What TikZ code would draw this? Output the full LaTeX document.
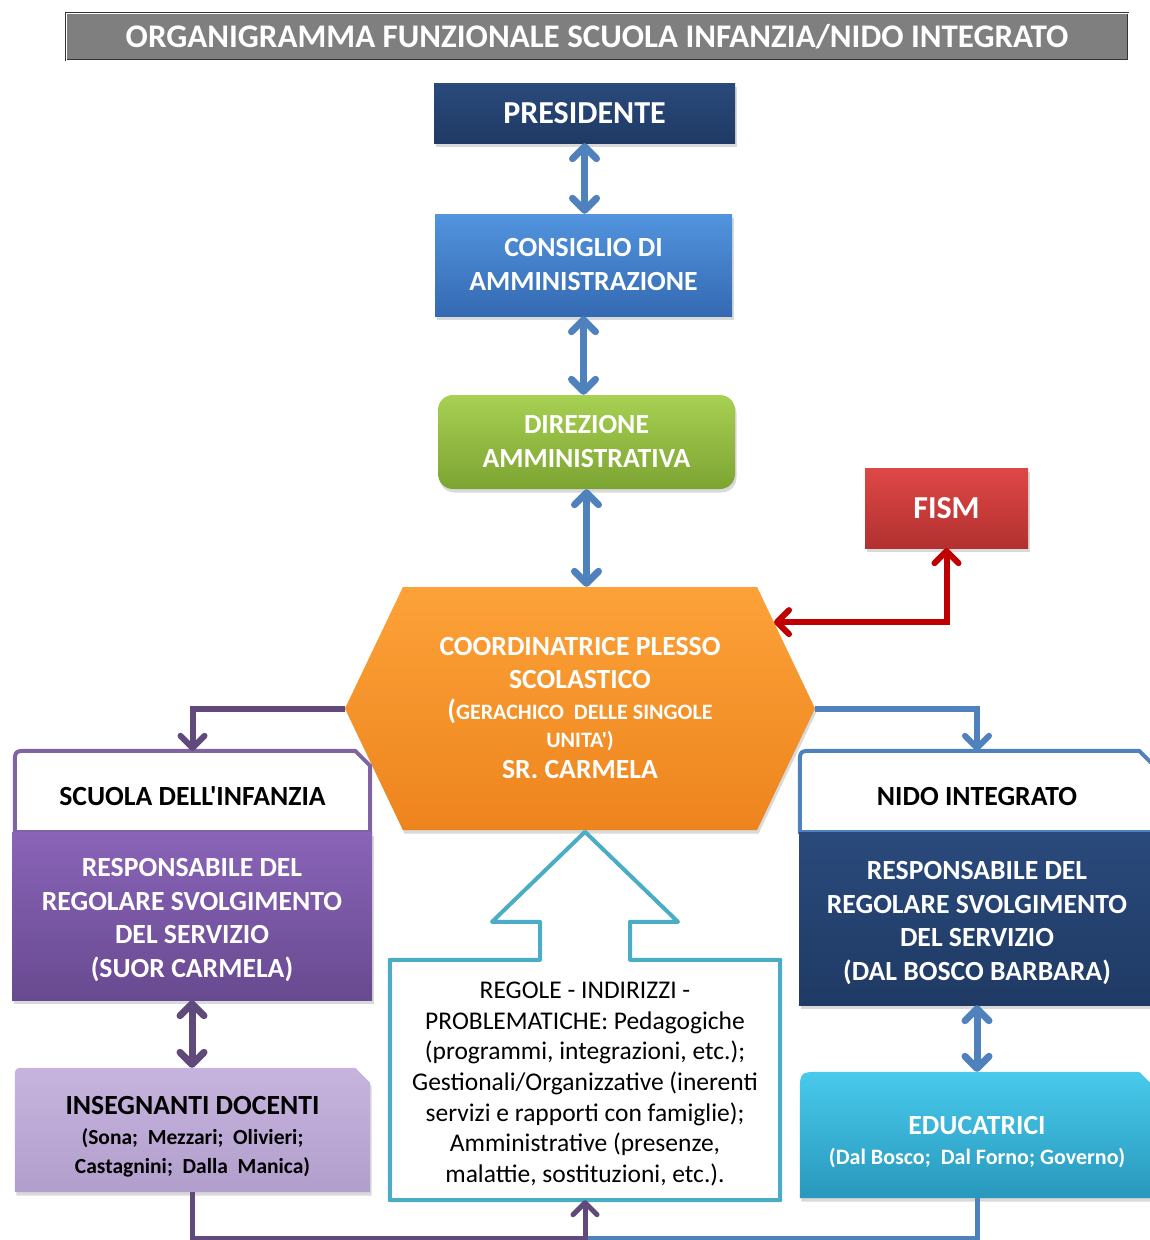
\documentclass[tikz,border=0pt]{standalone}
\usepackage{fontspec}
\setmainfont{Carlito}[Ligatures=TeXOff]
\usepackage{tikz}
\usetikzlibrary{arrows.meta,shapes.symbols,shadows,calc}
\definecolor{titleGray}{RGB}{127,127,127}
\definecolor{presNavy}{RGB}{31,58,100}
\definecolor{presTop}{RGB}{42,74,124}
\definecolor{consTop}{RGB}{82,148,222}
\definecolor{consBottom}{RGB}{52,106,178}
\definecolor{dirTop}{RGB}{168,208,82}
\definecolor{dirBottom}{RGB}{124,164,50}
\definecolor{fismTop}{RGB}{222,72,70}
\definecolor{fismBottom}{RGB}{178,48,48}
\definecolor{hexTop}{RGB}{252,162,56}
\definecolor{hexBottom}{RGB}{238,132,30}
\definecolor{infTop}{RGB}{138,100,184}
\definecolor{infBottom}{RGB}{104,74,144}
\definecolor{infBorder}{RGB}{128,100,162}
\definecolor{insTop}{RGB}{198,180,222}
\definecolor{insBottom}{RGB}{178,158,204}
\definecolor{eduTop}{RGB}{72,202,236}
\definecolor{eduBottom}{RGB}{40,152,188}
\definecolor{calloutCyan}{RGB}{75,172,198}
\definecolor{purpleLine}{RGB}{96,74,123}
\definecolor{blueLine}{RGB}{79,129,189}
\definecolor{redLine}{RGB}{192,0,0}
\newcommand{\headSize}[0]{\fontsize{27.7}{34}\selectfont}
\newcommand{\subSize}[0]{\fontsize{21.5}{28}\selectfont}
\newcommand{\snipBox}[3]{%
  \path[#3] (#1.south west) -- ($(#1.north west)+(0,#2)$)
    .. controls (#1.north west) .. ($(#1.north west)+(#2,0)$)
    -- ($(#1.north east)+(-15,0)$) -- ($(#1.north east)+(0,15)$)
    -- (#1.south east) -- cycle;}

\begin{document}
\begin{tikzpicture}[x=1pt, y=-1pt]
  \tikzset{
    boxshadow/.style={drop shadow={opacity=0.3, shadow xshift=1.5pt, shadow yshift=-3.5pt}},
    orgbox/.style={rectangle, align=center, inner sep=0pt, text=white, font=\headSize\bfseries, boxshadow},
    emptybox/.style={rectangle, inner sep=0pt},
    labelbox/.style={rectangle, align=center, inner sep=0pt, font=\headSize\bfseries},
    titlebox/.style={rectangle, fill=titleGray, draw=black!80, line width=0.8pt, double=white, double distance=1pt, text=white, font=\fontsize{33}{36}\selectfont\bfseries},
    biarrow/.style={line width=7pt, {Straight Barb[round,length=12pt,width=24pt]}-{Straight Barb[round,length=12pt,width=24pt]}},
    onearrow/.style={line width=6pt, -{Straight Barb[round,length=12pt,width=24pt]}},
    calloutline/.style={draw=calloutCyan, line width=4pt, line join=round}
  }
  \useasboundingbox (0,0) rectangle (1149,1240);
  \node[titlebox, minimum width=1062pt, minimum height=47pt] (title) at (597,36.5) {ORGANIGRAMMA FUNZIONALE SCUOLA INFANZIA/NIDO INTEGRATO};
  \node[orgbox, top color=presTop, bottom color=presNavy, minimum width=301pt, minimum height=60pt, font=\fontsize{32}{36}\selectfont\bfseries] (presidente) at (584.5,113) {PRESIDENTE};
  \node[orgbox, top color=consTop, bottom color=consBottom, minimum width=297pt, minimum height=102pt] (consiglio) at (583.5,265) {CONSIGLIO DI\\AMMINISTRAZIONE};
  \node[orgbox, rounded corners=15pt, top color=dirTop, bottom color=dirBottom, minimum width=297pt, minimum height=94pt] (direzione) at (586.5,442) {DIREZIONE\\AMMINISTRATIVA};
  \node[orgbox, top color=fismTop, bottom color=fismBottom, minimum width=163pt, minimum height=80pt, font=\fontsize{32}{36}\selectfont\bfseries] (fism) at (946.5,508) {FISM};
  \node[orgbox, signal, signal to=west and east, signal pointer angle=129, top color=hexTop, bottom color=hexBottom, minimum width=470pt, minimum height=243pt] (coordinatrice) at (580,708.5) {COORDINATRICE PLESSO\\[-1pt]SCOLASTICO\\[-3pt]({\fontsize{22}{28}\selectfont GERACHICO\ \ DELLE SINGOLE}\\[-6pt]{\fontsize{22}{28}\selectfont UNITA')}\\[-3pt]SR. CARMELA};
  \node[emptybox, minimum width=355pt, minimum height=81pt] (scuola) at (192.5,791.5) {};
  \snipBox{scuola}{14}{draw=infBorder, line width=4pt, fill=white}
  \node[labelbox] (scuolaText) at ([yshift=-5pt]scuola.center) {SCUOLA DELL'INFANZIA};
  \node[orgbox, top color=infTop, bottom color=infBottom, minimum width=360pt, minimum height=168pt] (respinfanzia) at (192,916) {};
  \node[labelbox, text=white] (respinfanziaText) at ([yshift=-4pt]respinfanzia.center) {RESPONSABILE DEL\\[-0.5pt]REGOLARE SVOLGIMENTO\\[-0.5pt]DEL SERVIZIO\\[-0.5pt](SUOR CARMELA)};
  \node[emptybox, minimum width=355pt, minimum height=124pt] (insegnanti) at (192.5,1130) {};
  \snipBox{insegnanti}{12}{top color=insTop, bottom color=insBottom, boxshadow}
  \node[labelbox] (insegnantiText) at ([yshift=-7pt]insegnanti.center) {INSEGNANTI DOCENTI\\[-4pt]{\subSize (Sona;\ \ Mezzari;\ \ Olivieri;}\\[-5pt]{\subSize Castagnini;\ \ Dalla\ \ Manica)}};
  \node[emptybox, minimum width=354pt, minimum height=81pt] (nido) at (977,791.5) {};
  \snipBox{nido}{14}{draw=blueLine, line width=4pt, fill=white}
  \node[labelbox] (nidoText) at ([yshift=-5pt]nido.center) {NIDO INTEGRATO};
  \node[orgbox, top color=presTop, bottom color=presNavy, minimum width=356pt, minimum height=173pt] (respnido) at (977,918.5) {};
  \node[labelbox, text=white] (respnidoText) at ([yshift=-4.5pt]respnido.center) {RESPONSABILE DEL\\[-0.5pt]REGOLARE SVOLGIMENTO\\[-0.5pt]DEL SERVIZIO\\[-0.5pt](DAL BOSCO BARBARA)};
  \node[emptybox, minimum width=354pt, minimum height=126pt] (educatrici) at (977,1135) {};
  \snipBox{educatrici}{22}{top color=eduTop, bottom color=eduBottom, boxshadow}
  \node[labelbox, text=white] (educatriciText) at ([yshift=-7pt]educatrici.center) {EDUCATRICI\\[-4pt]{\fontsize{22}{28}\selectfont (Dal Bosco;\ \ Dal Forno; Governo)}};
  \node[emptybox, fill=white, minimum width=390pt, minimum height=240pt] (regole) at (585,1080) {};
  \draw[calloutline] (regole.north west) -- ($(regole.north)+(-45,0)$) -- ($(regole.north)+(-45,-38)$)
    -- ($(regole.north)+(-93,-38)$) -- ($(regole.north)+(0,-128)$) -- ($(regole.north)+(93,-38)$)
    -- ($(regole.north)+(45,-38)$) -- ($(regole.north)+(45,0)$) -- (regole.north east)
    -- (regole.south east) -- (regole.south west) -- cycle;
  \node[rectangle, align=center, inner sep=0pt, font=\fontsize{25.5}{30.7}\selectfont] (regoleText) at ([yshift=-4pt]regole.center) {REGOLE - INDIRIZZI -\\PROBLEMATICHE: Pedagogiche\\(programmi, integrazioni, etc.);\\Gestionali/Organizzative (inerenti\\servizi e rapporti con famiglie);\\Amministrative (presenze,\\malattie, sostituzioni, etc.).};
  \draw[biarrow, blueLine] (presidente.south) -- (presidente.south |- consiglio.north);
  \draw[biarrow, blueLine] (consiglio.south) -- (consiglio.south |- direzione.north);
  \draw[biarrow, blueLine] (direzione.south) -- (direzione.south |- coordinatrice.north);
  \draw[biarrow, redLine, line width=6pt] (fism.south) |- (coordinatrice.24);
  \draw[onearrow, purpleLine] (coordinatrice.west) -| (scuola.north);
  \draw[onearrow, blueLine] (coordinatrice.east) -| (nido.north);
  \draw[biarrow, purpleLine] (respinfanzia.south) -- (respinfanzia.south |- insegnanti.north);
  \draw[biarrow, blueLine] (respnido.south) -- (respnido.south |- educatrici.north);
  \coordinate (bottomjoin) at (585,1238);
  \draw[blueLine, line width=5pt] (educatrici.south) |- (bottomjoin);
  \draw[onearrow, purpleLine, line width=5pt] (insegnanti.south) |- (bottomjoin) -- (regole.south);
\end{tikzpicture}
\end{document}
